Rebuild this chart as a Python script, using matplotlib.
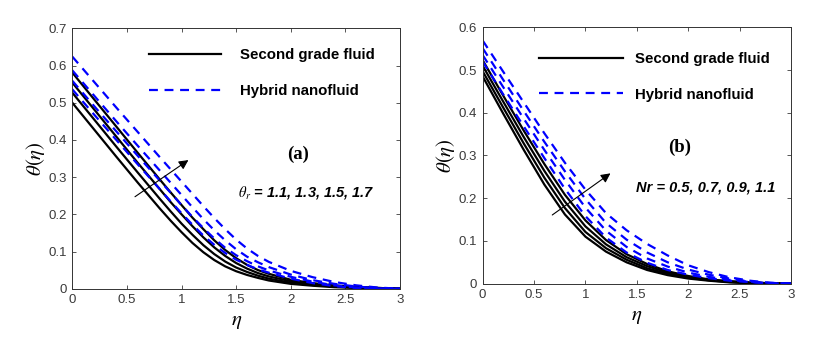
import matplotlib
matplotlib.use("Agg")
import matplotlib.pyplot as plt
import numpy as np

plt.rcParams['font.family'] = ['Liberation Sans', 'DejaVu Sans']
plt.rcParams['mathtext.fontset'] = 'stix'

# panel (a): theta_r = 1.1, 1.3, 1.5, 1.7
eta_a = [0.0, 0.2, 0.4, 0.6, 0.8, 0.9, 1.0, 1.1, 1.2, 1.3, 1.4, 1.5, 1.6, 1.7, 1.8, 2.0, 2.2, 2.4, 2.6, 2.8, 3.0]
a_second = [
    [0.500, 0.428, 0.356, 0.285, 0.216, 0.183, 0.152, 0.123, 0.098, 0.077, 0.060, 0.047, 0.037, 0.029, 0.022, 0.013, 0.008, 0.004, 0.002, 0.001, 0.000],
    [0.527, 0.455, 0.383, 0.312, 0.242, 0.208, 0.175, 0.145, 0.117, 0.093, 0.073, 0.057, 0.045, 0.035, 0.027, 0.016, 0.010, 0.006, 0.003, 0.001, 0.000],
    [0.554, 0.482, 0.410, 0.338, 0.268, 0.233, 0.200, 0.168, 0.138, 0.111, 0.088, 0.069, 0.054, 0.042, 0.033, 0.020, 0.012, 0.007, 0.004, 0.002, 0.000],
    [0.581, 0.509, 0.437, 0.365, 0.294, 0.259, 0.225, 0.191, 0.160, 0.130, 0.104, 0.082, 0.064, 0.050, 0.040, 0.024, 0.015, 0.009, 0.005, 0.002, 0.000],
]
a_hybrid = [
    [0.536, 0.468, 0.401, 0.334, 0.268, 0.235, 0.203, 0.172, 0.143, 0.118, 0.096, 0.078, 0.064, 0.052, 0.043, 0.027, 0.015, 0.007, 0.002, 0.000, 0.000],
    [0.559, 0.491, 0.424, 0.357, 0.291, 0.258, 0.225, 0.193, 0.163, 0.135, 0.110, 0.090, 0.074, 0.060, 0.049, 0.032, 0.019, 0.009, 0.003, 0.000, 0.000],
    [0.587, 0.519, 0.451, 0.384, 0.318, 0.285, 0.252, 0.219, 0.187, 0.157, 0.130, 0.106, 0.086, 0.071, 0.058, 0.038, 0.023, 0.013, 0.006, 0.001, 0.000],
    [0.624, 0.556, 0.488, 0.421, 0.354, 0.321, 0.288, 0.255, 0.222, 0.190, 0.160, 0.132, 0.108, 0.088, 0.072, 0.048, 0.031, 0.018, 0.009, 0.003, 0.000],
]

# panel (b): Nr = 0.5, 0.7, 0.9, 1.1
eta_b = [0.0, 0.2, 0.4, 0.6, 0.8, 1.0, 1.2, 1.4, 1.6, 1.8, 2.0, 2.2, 2.4, 2.6, 2.8, 3.0]
b_second = [
    [0.485, 0.398, 0.313, 0.232, 0.162, 0.110, 0.075, 0.050, 0.032, 0.020, 0.012, 0.007, 0.003, 0.001, 0.000, 0.000],
    [0.497, 0.412, 0.328, 0.248, 0.177, 0.121, 0.083, 0.056, 0.036, 0.023, 0.014, 0.008, 0.004, 0.002, 0.001, 0.000],
    [0.510, 0.426, 0.343, 0.264, 0.192, 0.134, 0.092, 0.062, 0.041, 0.026, 0.016, 0.009, 0.005, 0.002, 0.001, 0.000],
    [0.523, 0.440, 0.358, 0.280, 0.208, 0.148, 0.102, 0.069, 0.046, 0.029, 0.018, 0.010, 0.006, 0.003, 0.001, 0.000],
]
b_hybrid = [
    [0.520, 0.443, 0.368, 0.294, 0.222, 0.158, 0.108, 0.073, 0.049, 0.032, 0.021, 0.013, 0.007, 0.004, 0.001, 0.000],
    [0.535, 0.460, 0.386, 0.313, 0.243, 0.178, 0.124, 0.086, 0.059, 0.040, 0.026, 0.016, 0.009, 0.004, 0.001, 0.000],
    [0.551, 0.477, 0.404, 0.332, 0.263, 0.198, 0.142, 0.103, 0.073, 0.050, 0.033, 0.021, 0.012, 0.005, 0.002, 0.000],
    [0.569, 0.496, 0.424, 0.352, 0.283, 0.220, 0.165, 0.125, 0.093, 0.066, 0.043, 0.027, 0.015, 0.007, 0.002, 0.000],
]

xticks = [0, 0.5, 1, 1.5, 2, 2.5, 3]
xtick_labels = ['0', '0.5', '1', '1.5', '2', '2.5', '3']

fig = plt.figure(figsize=(8.13, 3.46), dpi=100)
ax1 = fig.add_axes([0.0889, 0.1656, 0.4031, 0.7526])
ax2 = fig.add_axes([0.5937, 0.1801, 0.3793, 0.7410])


def panel(ax, eta, second, hybrid, ymax, leg_opts, tag, tag_xy, param, param_xy, arrow_from, arrow_to):
    for i, ys in enumerate(second):
        ax.plot(eta, ys, color='black', lw=1.6, label='Second grade fluid' if i == 0 else None)
    for i, ys in enumerate(hybrid):
        ax.plot(eta, ys, color='#0000ff', lw=1.6, ls=(0, (4, 3)),
                label='Hybrid nanofluid' if i == 0 else None)
    ax.set_xlim(0, 3)
    ax.set_ylim(0, ymax)
    ax.set_xticks(xticks)
    ax.set_xticklabels(xtick_labels)
    yt = np.round(np.arange(0, ymax + 0.001, 0.1), 1)
    ax.set_yticks(yt)
    ax.set_yticklabels(['0' if v == 0 else f'{v:.1f}' for v in yt])
    ax.tick_params(direction='in', top=True, right=True, length=3, width=0.6,
                   labelsize=9.5, labelcolor='#3a3a3a', colors='#3a3a3a', pad=4)
    for s in ax.spines.values():
        s.set_linewidth(0.7)
        s.set_color('#333333')
    ax.set_xlabel(r'$\eta$', fontsize=15, labelpad=4)
    ax.set_ylabel(r'$\theta(\eta)$', fontsize=15, labelpad=1)
    ax.legend(loc='upper right', frameon=False, labelspacing=1.45,
              prop={'weight': 'bold', 'size': 10.8}, **leg_opts)
    ax.text(tag_xy[0], tag_xy[1], tag, fontsize=13.5, fontweight='bold',
            family='Liberation Serif', ha='center', va='center')
    ax.text(param_xy[0], param_xy[1], param, fontsize=10.5, fontweight='bold',
            style='italic', ha='left', va='center')
    ax.annotate('', xy=arrow_to, xytext=arrow_from,
                arrowprops=dict(arrowstyle='-|>', color='black', lw=0.8,
                                mutation_scale=14))


panel(ax1, eta_a, a_second, a_hybrid, 0.7,
      dict(bbox_to_anchor=(0.965, 0.975), handlelength=4.8, handletextpad=1.3),
      '(a)', (2.07, 0.36),
      r'$\boldsymbol{\theta_r}$ = 1.1, 1.3, 1.5, 1.7', (1.52, 0.258),
      (0.553, 0.243), (1.084, 0.350))
panel(ax2, eta_b, b_second, b_hybrid, 0.6,
      dict(bbox_to_anchor=(0.975, 0.957), handlelength=5.6, handletextpad=0.8),
      '(b)', (1.92, 0.318),
      'Nr = 0.5, 0.7, 0.9, 1.1', (1.49, 0.226),
      (0.655, 0.157), (1.265, 0.262))

fig.savefig('out.png', dpi=100)
